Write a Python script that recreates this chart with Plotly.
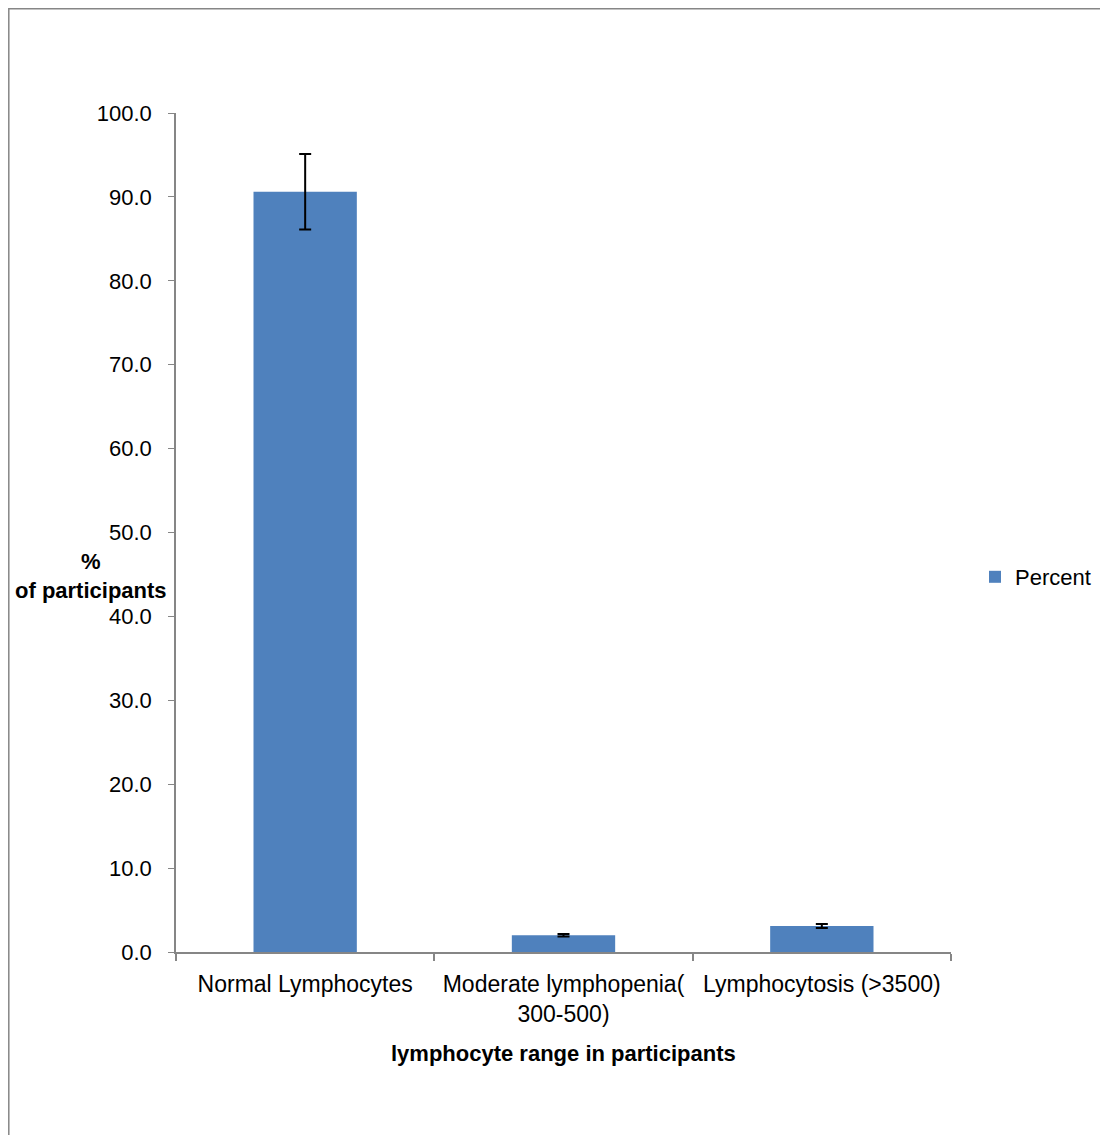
import plotly.graph_objects as go

categories = ["Normal Lymphocytes", "Moderate lymphopenia(<br>300-500)", "Lymphocytosis (>3500)"]
percent = [90.6, 2.0, 3.1]
errors = [4.5, 0.15, 0.25]
yticks = [0, 10, 20, 30, 40, 50, 60, 70, 80, 90, 100]
ytick_text = ["%.1f" % v for v in yticks]

FONT = "Liberation Sans"
AXIS = "#868686"
FS = 22

# page offset from default body margin
OFF = 8
W, H = 1092, 1127
L, T = 176 - OFF, 113 - OFF
pw, ph = 775, 839
R = W - L - pw
B = H - T - ph

def px(x):  # page x -> paper
    return (x - 176) / pw

def py(y):  # page y -> paper
    return (952 - y) / ph

fig = go.Figure()
fig.add_trace(go.Bar(
    x=categories, y=percent, name="Percent",
    marker=dict(color="#4F81BD", line=dict(width=0)),
    width=0.4,
    error_y=dict(type="data", array=errors, visible=True, color="black", thickness=2, width=6),
))

fig.update_layout(
    width=W, height=H,
    margin=dict(l=L, r=R, t=T, b=B, autoexpand=False),
    paper_bgcolor="white", plot_bgcolor="white",
    font=dict(family=FONT, size=FS, color="black"),
    showlegend=True,
    legend=dict(x=px(975), y=py(577), xanchor="left", yanchor="middle",
                font=dict(size=FS), bgcolor="rgba(0,0,0,0)"),
    xaxis=dict(showline=True, linecolor=AXIS, linewidth=2, ticks="outside", ticklen=7,
               tickcolor=AXIS, tickwidth=1.5, tickson="boundaries", showgrid=False,
               tickfont=dict(size=23), ticklabelstandoff=10),
    yaxis=dict(range=[0, 100], tickvals=yticks, ticktext=ytick_text, showline=True,
               linecolor=AXIS, linewidth=1.5, ticks="outside", ticklen=6, tickcolor=AXIS,
               showgrid=False, zeroline=False, tickfont=dict(size=FS), ticklabelstandoff=12),
    annotations=[
        dict(text="<b>%<br>of participants</b>", x=px(91), y=py(576), xref="paper", yref="paper",
             xanchor="center", yanchor="middle",
             showarrow=False, font=dict(size=FS), align="center"),
        dict(text="<b>lymphocyte range in participants</b>", x=px(563), y=py(1053),
             xref="paper", yref="paper", xanchor="center", yanchor="middle",
             showarrow=False, font=dict(size=FS)),
    ],
    shapes=[
        dict(type="rect", xref="paper", yref="paper", x0=px(8.8), x1=px(1125), y0=py(1170), y1=py(8.8),
             line=dict(color=AXIS, width=1.5)),
    ],
)

fig.write_html("out.html")
